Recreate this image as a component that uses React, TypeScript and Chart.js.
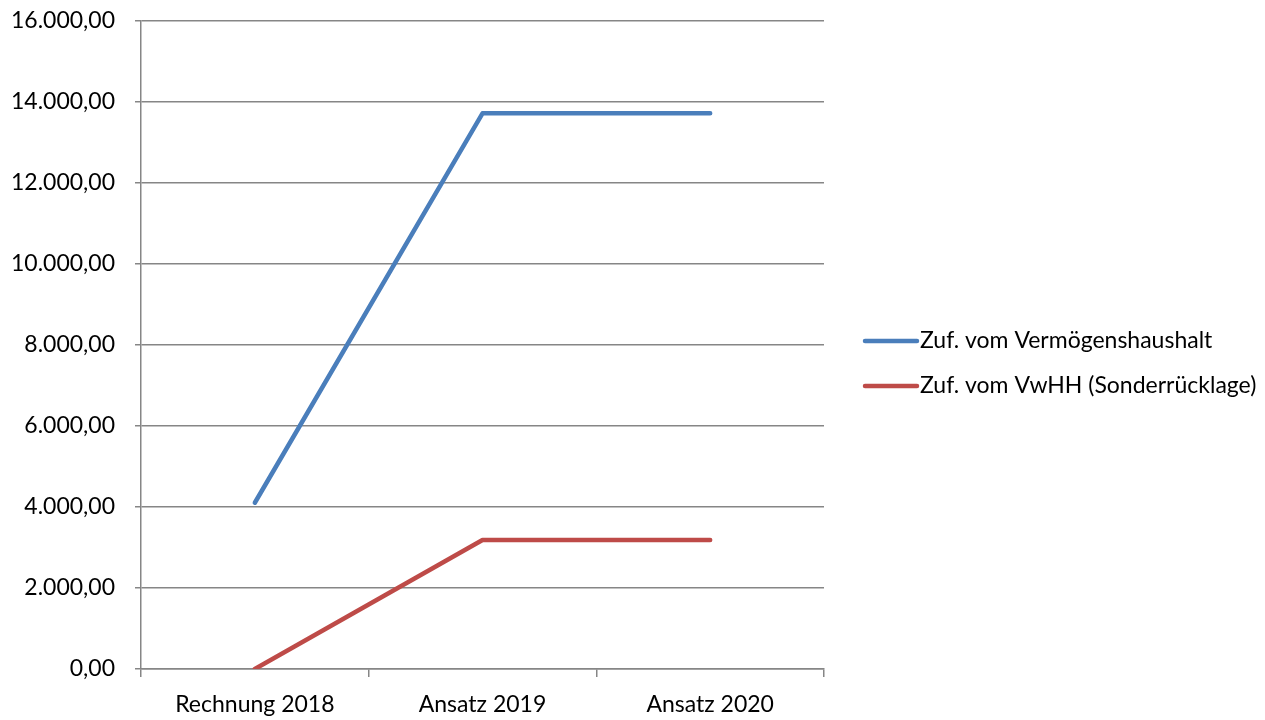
import React, { useEffect, useRef } from "react";
import { Chart, registerables } from "chart.js";

Chart.register(...registerables);

const categories = ["Rechnung 2018", "Ansatz 2019", "Ansatz 2020"];
const seriesNames = ["Zuf. vom Vermögenshaushalt", "Zuf. vom VwHH (Sonderrücklage)"];
const vermoegenshaushalt = [4105, 13720, 13725];
const sonderruecklage = [0, 3185, 3185];
const seriesColors = ["#4A7EBB", "#BE4B48"];

const FONT = "Lato, 'Open Sans', sans-serif";
const FONT_SIZE = 23;

function fmt(v: number): string {
  const neg = v < 0;
  const s = Math.abs(v).toFixed(2);
  const [int, dec] = s.split(".");
  const withDots = int.replace(/\B(?=(\d{3})+(?!\d))/g, ".");
  return (neg ? "-" : "") + withDots + "," + dec;
}

const legendPlugin = {
  id: "customLegend",
  afterDraw(chart: any) {
    const ctx = chart.ctx;
    ctx.save();
    ctx.font = `${FONT_SIZE}px ${FONT}`;
    ctx.textBaseline = "middle";
    ctx.textAlign = "left";
    const startY = 341;
    const gap = 45;
    chart.data.datasets.forEach((ds: any, i: number) => {
      const y = startY + i * gap;
      ctx.strokeStyle = ds.borderColor;
      ctx.lineWidth = 4.5;
      ctx.lineCap = "round";
      ctx.beginPath();
      ctx.moveTo(865, y);
      ctx.lineTo(917, y);
      ctx.stroke();
      ctx.fillStyle = "#000";
      ctx.fillText(ds.label, 920, y);
    });
    ctx.restore();
  },
};

export default function App() {
  const ref = useRef<HTMLCanvasElement>(null);
  useEffect(() => {
    if (!ref.current) return;
    const chart = new Chart(ref.current, {
      type: "line",
      data: {
        labels: categories,
        datasets: [
          {
            label: seriesNames[0],
            data: vermoegenshaushalt,
            borderColor: seriesColors[0],
            backgroundColor: seriesColors[0],
            borderWidth: 4.5,
            pointRadius: 0,
            borderCapStyle: "round",
            borderJoinStyle: "round",
            tension: 0,
          },
          {
            label: seriesNames[1],
            data: sonderruecklage,
            borderColor: seriesColors[1],
            backgroundColor: seriesColors[1],
            borderWidth: 4.5,
            pointRadius: 0,
            borderCapStyle: "round",
            borderJoinStyle: "round",
            tension: 0,
          },
        ],
      },
      options: {
        responsive: false,
        animation: false,
        layout: { padding: { top: 21, right: 441, left: 0, bottom: 0 } },
        plugins: { legend: { display: false }, tooltip: { enabled: false } },
        scales: {
          x: {
            offset: true,
            grid: {
              offset: true,
              drawOnChartArea: false,
              drawTicks: true,
              tickLength: 8,
              color: "#868686",
              lineWidth: 1.5,
            },
            border: { display: true, color: "#868686", width: 1.5 },
            ticks: { color: "#000", font: { family: FONT, size: FONT_SIZE }, padding: 14 },
            afterFit(scale: any) {
              scale.height = 51;
              scale.paddingLeft = 0;
              scale.paddingRight = 0;
            },
          },
          y: {
            min: 0,
            max: 16000,
            grid: { color: "#868686", lineWidth: 1.5, tickLength: 6, drawTicks: true },
            border: { display: true, color: "#868686", width: 1.5 },
            ticks: {
              stepSize: 2000,
              color: "#000",
              font: { family: FONT, size: FONT_SIZE },
              padding: 20,
              callback: (v: any) => fmt(Number(v)),
            },
            afterFit(scale: any) {
              scale.width = 141;
              scale.paddingTop = 0;
              scale.paddingBottom = 0;
            },
          },
        },
      },
      plugins: [legendPlugin],
    } as any);
    return () => chart.destroy();
  }, []);
  return (
    <div style={{ position: "absolute", left: 0, top: 0, width: 1265, height: 720, background: "#fff" }}>
      <canvas ref={ref} width={1265} height={720} style={{ display: "block" }} />
    </div>
  );
}
